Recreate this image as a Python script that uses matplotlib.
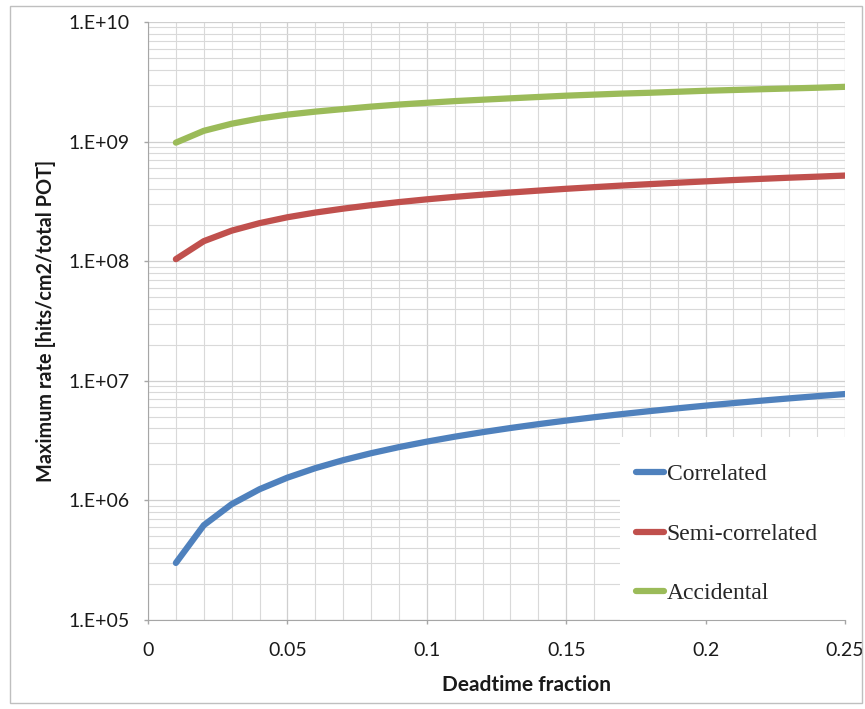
import numpy as np
import matplotlib
matplotlib.use("Agg")
import matplotlib.pyplot as plt
from matplotlib.patches import Rectangle
from matplotlib.ticker import FixedLocator, LogLocator, NullFormatter

# deadtime fraction, read every 0.01
deadtime = [0.01, 0.02, 0.03, 0.04, 0.05, 0.06, 0.07, 0.08, 0.09, 0.10,
            0.11, 0.12, 0.13, 0.14, 0.15, 0.16, 0.17, 0.18, 0.19, 0.20,
            0.21, 0.22, 0.23, 0.24, 0.25]

correlated = [0.30e6, 0.62e6, 0.93e6, 1.24e6, 1.55e6, 1.86e6, 2.17e6, 2.48e6, 2.79e6, 3.10e6,
              3.41e6, 3.72e6, 4.03e6, 4.34e6, 4.65e6, 4.96e6, 5.27e6, 5.58e6, 5.89e6, 6.20e6,
              6.51e6, 6.82e6, 7.13e6, 7.44e6, 7.75e6]

semi_correlated = [1.04e8, 1.47e8, 1.80e8, 2.08e8, 2.33e8, 2.55e8, 2.75e8, 2.94e8, 3.12e8, 3.29e8,
                   3.45e8, 3.60e8, 3.75e8, 3.89e8, 4.03e8, 4.16e8, 4.29e8, 4.41e8, 4.53e8, 4.65e8,
                   4.77e8, 4.88e8, 4.99e8, 5.09e8, 5.20e8]

accidental = [0.98e9, 1.23e9, 1.41e9, 1.56e9, 1.68e9, 1.78e9, 1.87e9, 1.96e9, 2.04e9, 2.11e9,
              2.18e9, 2.24e9, 2.30e9, 2.36e9, 2.42e9, 2.47e9, 2.52e9, 2.56e9, 2.61e9, 2.66e9,
              2.70e9, 2.74e9, 2.78e9, 2.82e9, 2.87e9]

x_ticks = [0, 0.05, 0.1, 0.15, 0.2, 0.25]
x_tick_labels = ["0", "0.05", "0.1", "0.15", "0.2", "0.25"]
y_ticks = [1e5, 1e6, 1e7, 1e8, 1e9, 1e10]
y_tick_labels = ["1.E+05", "1.E+06", "1.E+07", "1.E+08", "1.E+09", "1.E+10"]

fig = plt.figure(figsize=(8.65, 7.09), dpi=100)
ax = fig.add_axes([0.1711, 0.1255, 0.8058, 0.8435])

fig.patches.append(Rectangle((10 / 865, 1 - 703 / 709), 852 / 865, 697 / 709,
                             transform=fig.transFigure, fill=False,
                             edgecolor="#bfbfbf", linewidth=1.0))

ax.plot(deadtime, correlated, color="#4f81bd", linewidth=4.5, label="Correlated",
        solid_capstyle="round", solid_joinstyle="round", zorder=3)
ax.plot(deadtime, semi_correlated, color="#c0504d", linewidth=4.5, label="Semi-correlated",
        solid_capstyle="round", solid_joinstyle="round", zorder=3)
ax.plot(deadtime, accidental, color="#9bbb59", linewidth=4.5, label="Accidental",
        solid_capstyle="round", solid_joinstyle="round", zorder=3)

ax.set_yscale("log")
ax.set_xlim(0, 0.25)
ax.set_ylim(1e5, 1e10)

ax.xaxis.set_major_locator(FixedLocator(x_ticks))
ax.set_xticklabels(x_tick_labels)
ax.xaxis.set_minor_locator(FixedLocator(np.arange(0, 0.2501, 0.01)))
ax.yaxis.set_major_locator(FixedLocator(y_ticks))
ax.set_yticklabels(y_tick_labels)
ax.yaxis.set_minor_locator(LogLocator(base=10, subs=np.arange(2, 10)))
ax.yaxis.set_minor_formatter(NullFormatter())

ax.grid(True, which="major", color="#cfcfcf", linewidth=0.9)
ax.grid(True, which="minor", color="#d9d9d9", linewidth=0.8)
ax.set_axisbelow(True)

for s in ["top", "right"]:
    ax.spines[s].set_visible(False)
ax.spines["left"].set_color("#a6a6a6")
ax.spines["bottom"].set_color("#a6a6a6")

ax.tick_params(axis="both", which="major", labelsize=14, colors="#a6a6a6",
               labelcolor="#1a1a1a", length=3, width=1, direction="out")
ax.tick_params(axis="x", which="minor", length=0)
ax.tick_params(axis="y", which="minor", length=0)
ax.tick_params(axis="x", pad=13)
ax.tick_params(axis="y", pad=10)
for lab in ax.get_xticklabels() + ax.get_yticklabels():
    lab.set_family("Lato")

ax.set_ylabel("Maximum rate [hits/cm2/total POT]", fontsize=14.3, fontweight="bold",
              family="Lato", color="#1a1a1a", labelpad=9)
fig.text(526 / 865, 1 - 685 / 709, "Deadtime fraction", fontsize=15, fontweight="bold",
         family="Lato", color="#1a1a1a", ha="center", va="center")

# white legend area, the gridlines stop at its edge
ax.add_patch(Rectangle((0.677, 0.0), 0.323, 0.306, transform=ax.transAxes,
                       facecolor="white", edgecolor="none", zorder=2.5))

leg = ax.legend(loc="upper left", bbox_to_anchor=(0.700, 0.261), frameon=False,
                prop={"family": "Liberation Serif", "size": 17},
                labelspacing=1.6, handlelength=1.2, handletextpad=0.1,
                borderpad=0.0, borderaxespad=0.0)
for t in leg.get_texts():
    t.set_color("#262626")

fig.savefig("out.png", dpi=100)
